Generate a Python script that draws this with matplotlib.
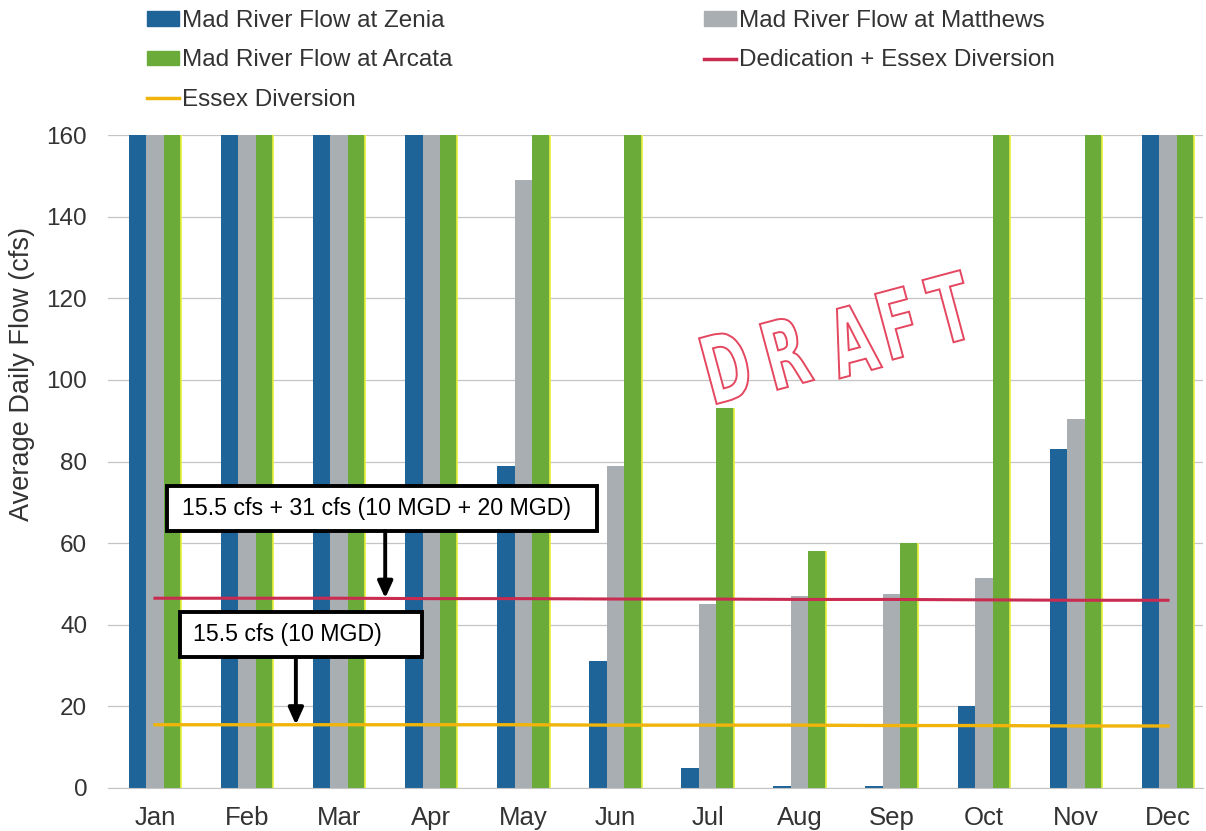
import matplotlib
matplotlib.use("Agg")
import matplotlib.pyplot as plt
from matplotlib.patches import Patch, PathPatch, Rectangle
from matplotlib.lines import Line2D
from matplotlib.textpath import TextPath
from matplotlib.font_manager import FontProperties
from matplotlib.transforms import Affine2D
import numpy as np

# Monthly average daily flow (cfs); values above the axis top are shown clipped at 160
months = ["Jan", "Feb", "Mar", "Apr", "May", "Jun", "Jul", "Aug", "Sep", "Oct", "Nov", "Dec"]
zenia = [160, 160, 160, 160, 79, 31, 5, 0.5, 0.5, 20, 83, 160]
matthews = [160, 160, 160, 160, 149, 79, 45, 47, 47.5, 51.5, 90.5, 160]
arcata = [160, 160, 160, 160, 160, 160, 93, 58, 60, 160, 160, 160]
dedication_essex = [46.5, 46.5, 46.5, 46.4, 46.4, 46.3, 46.3, 46.2, 46.2, 46.1, 46.0, 46.0]
essex = [15.5, 15.5, 15.5, 15.5, 15.5, 15.4, 15.4, 15.4, 15.3, 15.3, 15.2, 15.2]

note_combined = "15.5 cfs + 31 cfs (10 MGD + 20 MGD)"
note_essex = "15.5 cfs (10 MGD)"
stamp = "DRAFT"

BLUE = "#1f6499"
GRAY = "#a9aeb2"
GREEN = "#6aab3a"
RED = "#c92c50"
YELLOW = "#f0b40a"
STAMP = "#e4475f"
TEXT = "#333333"

plt.rcParams["font.family"] = ["Liberation Sans", "DejaVu Sans"]

W, H = 1206, 831
fig = plt.figure(figsize=(W / 100, H / 100), dpi=100)
ax = fig.add_axes([108 / W, 1 - 788 / H, (1203 - 108) / W, (788 - 135) / H])

x = np.arange(len(months))
w = 0.19
ax.bar(x - w, zenia, w, color=BLUE, zorder=2)
ax.bar(x, matthews, w, color=GRAY, zorder=2)
ax.bar(x + w, arcata, w, color=GREEN, zorder=2)
# thin yellow rim on the right side of the Arcata bars
ax.vlines(x + 1.5 * w, 0, arcata, color="#e8f03a", lw=1.2, zorder=2.5)

ax.plot(x, dedication_essex, color=RED, lw=2.2, zorder=3)
ax.plot(x, essex, color=YELLOW, lw=2.4, zorder=3)

ax.set_xlim(-0.51, 11.38)
ax.set_ylim(0, 160)
ax.set_yticks(np.arange(0, 161, 20))
ax.set_xticks(x)
ax.set_xticklabels(months)
ax.tick_params(axis="both", length=0, colors=TEXT)
ax.tick_params(axis="x", labelsize=18.5, pad=13)
ax.tick_params(axis="y", labelsize=17.5, pad=15)
ax.grid(axis="y", color="#c4c4c4", lw=0.9, zorder=0)
for s in ["left", "right", "top"]:
    ax.spines[s].set_visible(False)
ax.spines["bottom"].set_color("#c4c4c4")
fig.text(22 / W, 1 - 374 / H, "Average Daily Flow (cfs)", rotation=90, fontsize=19.5,
         color=TEXT, ha="center", va="center")

# annotation boxes with arrows pointing to the diversion lines
arrow = dict(arrowstyle="-|>,head_length=1.0,head_width=0.45", color="black", lw=2.8,
             shrinkA=0, shrinkB=0)
ax.add_patch(Rectangle((0.13, 63.0), 4.67, 11.0, fc="white", ec="black", lw=2.8, zorder=5))
ax.text(0.29, 68.5, note_combined, fontsize=16.7, va="center", ha="left", zorder=6)
ax.annotate("", xy=(2.5, dedication_essex[2]), xytext=(2.5, 63.0), arrowprops=arrow, zorder=5)

ax.add_patch(Rectangle((0.27, 32.1), 2.63, 11.0, fc="white", ec="black", lw=2.8, zorder=5))
ax.text(0.41, 37.6, note_essex, fontsize=16.7, va="center", ha="left", zorder=6)
ax.annotate("", xy=(1.53, essex[1]), xytext=(1.53, 32.1), arrowprops=arrow, zorder=5)

# draft stamp: condensed outlined letters on a tilted baseline
stamp_font = FontProperties(family="DejaVu Sans", weight="bold")
stamp_centers = [(727, 366), (787, 352), (852, 340), (898, 323), (950, 308)]
for ch, (px, py) in zip(stamp, stamp_centers):
    tp = TextPath((0, 0), ch, size=100, prop=stamp_font)
    bb = tp.get_extents()
    sy = 68 / bb.height
    tr = (Affine2D()
          .translate(-(bb.x0 + bb.x1) / 2, -(bb.y0 + bb.y1) / 2)
          .scale(sy * 0.62, sy)
          .rotate_deg(15)
          .translate(px, H - py))
    fig.patches.append(PathPatch(tr.transform_path(tp), fc="white", ec=STAMP, lw=1.4,
                                 transform=None, figure=fig, zorder=4))

# legend, split into two columns
h_zenia = Patch(color=BLUE, label="Mad River Flow at Zenia")
h_arcata = Patch(color=GREEN, label="Mad River Flow at Arcata")
h_essex = Line2D([], [], color=YELLOW, lw=2.5, label="Essex Diversion")
h_matthews = Patch(color=GRAY, label="Mad River Flow at Matthews")
h_ded = Line2D([], [], color=RED, lw=2.5, label="Dedication + Essex Diversion")
common = dict(frameon=False, prop={"size": 17.5}, handlelength=1.3,
              handleheight=0.55, handletextpad=0.12, labelspacing=0.72, borderaxespad=0,
              borderpad=0, labelcolor=TEXT)
fig.legend(handles=[h_zenia, h_arcata, h_essex], loc="upper left",
           bbox_to_anchor=(147 / W, 1 - 10 / H), **common)
fig.legend(handles=[h_matthews, h_ded], loc="upper left",
           bbox_to_anchor=(704 / W, 1 - 10 / H), **common)

fig.savefig("out.png", dpi=100)
